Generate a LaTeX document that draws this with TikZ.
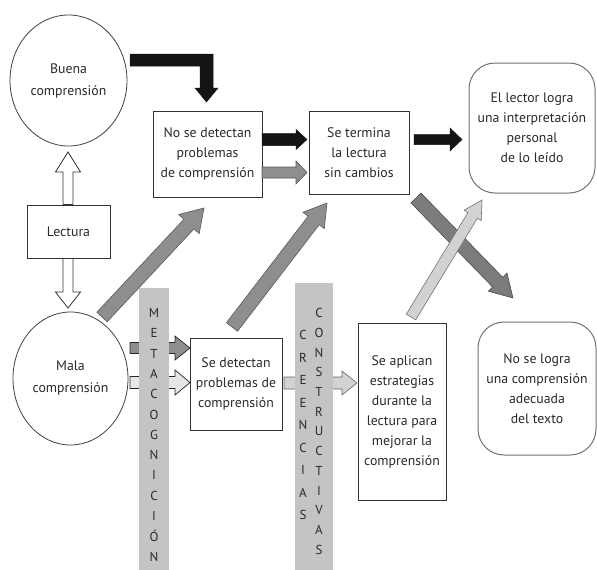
\documentclass[tikz,border=0pt]{standalone}
\usepackage{fontspec}
\setmainfont{PT Sans}
\usetikzlibrary{shapes.geometric,calc}
\definecolor{barg}{HTML}{C4C4C4}
\definecolor{midg}{HTML}{8E8E8E}
\definecolor{darkg}{HTML}{7C7C7C}
\definecolor{lightg}{HTML}{D2D2D2}
\definecolor{paleg}{HTML}{E6E6E6}
\definecolor{txtc}{HTML}{2A2A2A}
% fat block arrow: [style]{from}{to}{shaft half width}{head half width}{head length}
\newcommand\fatarrow[6][]{%
  \path[#1] let \p1=(#2), \p2=(#3),
    \n1={atan2(\y2-\y1,\x2-\x1)}, \n2={veclen(\x2-\x1,\y2-\y1)} in
    ([shift={(\p1)},rotate=\n1]0,#4)
    -- ([shift={(\p1)},rotate=\n1]\n2-#6,#4)
    -- ([shift={(\p1)},rotate=\n1]\n2-#6,#5)
    -- ([shift={(\p1)},rotate=\n1]\n2,0)
    -- ([shift={(\p1)},rotate=\n1]\n2-#6,-#5)
    -- ([shift={(\p1)},rotate=\n1]\n2-#6,-#4)
    -- ([shift={(\p1)},rotate=\n1]0,-#4) -- cycle;%
}
\begin{document}
\begin{tikzpicture}[x=1pt,y=-1pt,
  txt/.style={font=\fontsize{13.8}{20}\selectfont, text=txtc, align=center},
  ell/.style={txt, ellipse, draw=black!75, line width=0.8pt, inner sep=0pt},
  sqbox/.style={txt, rectangle, draw=black!80, line width=1pt, inner sep=0pt},
  rbox/.style={txt, rectangle, rounded corners=26pt, draw=black!55, line width=1pt, inner sep=0pt},
  bar/.style={fill=barg, inner sep=0pt, draw=none},
  letter/.style={font=\fontsize{13}{13}\selectfont, text=txtc, inner sep=0pt},
  blk/.style={fill=black!92, draw=black!92, line width=0.5pt, line join=miter},
  hollow/.style={fill=white, draw=black!80, line width=0.8pt},
  gr/.style={fill=midg, draw=black!65, line width=0.6pt},
  grb/.style={fill=midg, draw=black!85, line width=0.7pt},
  dk/.style={fill=darkg, draw=black!70, line width=0.6pt},
  lt/.style={fill=lightg, draw=black!55, line width=0.6pt},
  pale/.style={fill=paleg, draw=black!85, line width=0.7pt},
  ltc/.style={fill=lightg, draw=black!60, line width=0.6pt}
]
\fill[white] (0,0) rectangle (597,570);
\useasboundingbox (0,0) rectangle (597,570);

% nodes
\node[ell, minimum width=117, minimum height=131, font=\fontsize{13.8}{22}\selectfont] (buena) at (68.5,80.5) {Buena\\comprensión};
\node[ell, minimum width=115, minimum height=133, font=\fontsize{13.8}{22}\selectfont] (mala) at (70.5,378.5) {Mala\\comprensión};
\node[sqbox, minimum width=83, minimum height=53] (lectura) at (68.5,231.5) {Lectura};
\node[sqbox, minimum width=109, minimum height=86] (nodet) at (207.5,154) {No se detectan\\problemas\\de comprensión};
\node[sqbox, minimum width=100, minimum height=83] (termina) at (359,152.5) {Se termina\\la lectura\\sin cambios};
\node[rbox, minimum width=126, minimum height=130] (lector) at (532,128) {El lector logra\\una interpretación\\personal\\de lo leído};
\node[sqbox, minimum width=92, minimum height=92] (detect) at (236,384) {Se detectan\\problemas de\\comprensión};
\node[sqbox, minimum width=88, minimum height=177] (aplican) at (402,411.5) {Se aplican\\estrategias\\durante la\\lectura para\\mejorar la\\comprensión};
\node[rbox, minimum width=118, minimum height=133] (nologra) at (537,388.5) {No se logra\\una comprensión\\adecuada\\del texto};

% arrow end points
\coordinate (lu1) at (68,204.5);  \coordinate (lu2) at (68,152);
\coordinate (ld1) at (68,258.5);  \coordinate (ld2) at (68,308);
\coordinate (b1s) at (262,139.5); \coordinate (b1e) at (307,139.5);
\coordinate (g1s) at (262,172.5); \coordinate (g1e) at (307,172.5);
\coordinate (b2s) at (414,139.5); \coordinate (b2e) at (462,139.5);
\coordinate (d1s) at (102,317);   \coordinate (d1e) at (204,208);
\coordinate (d2s) at (232,327);   \coordinate (d2e) at (327,203);
\coordinate (d3s) at (416,198);   \coordinate (d3e) at (513,298);
\coordinate (d4s) at (411,317);   \coordinate (d4e) at (482,200);
\coordinate (m1s) at (130,348);   \coordinate (m1e) at (190,348);
\coordinate (m2s) at (130,382.5); \coordinate (m2e) at (190,382.5);
\coordinate (c1s) at (284,383);   \coordinate (c1e) at (357,383);

% hollow arrows from Lectura
\fatarrow[hollow]{lu1}{lu2}{5}{12.5}{20}
\fatarrow[hollow]{ld1}{ld2}{5}{12.5}{16}

% black elbow arrow from Buena comprensión
\fill[blk] (130,54) -- (213,54) -- (213,88) -- (218,88) -- (206.5,102)
  -- (195,88) -- (200,88) -- (200,66) -- (130,66) -- cycle;

% horizontal arrows
\fatarrow[blk]{b1s}{b1e}{6}{10}{11}
\fatarrow[gr]{g1s}{g1e}{5.5}{11.5}{11}
\fatarrow[blk]{b2s}{b2e}{5}{11.5}{12}

% diagonal arrows
\fatarrow[gr]{d1s}{d1e}{7}{14}{22}
\fatarrow[gr]{d2s}{d2e}{7}{13.5}{22}
\fatarrow[dk]{d3s}{d3e}{7}{13}{22}
\fatarrow[lt]{d4s}{d4e}{5.5}{10}{18}

% arrows passing behind the bars
\fatarrow[grb]{m1s}{m1e}{5.5}{12}{15}
\fatarrow[pale]{m2s}{m2e}{6}{12.5}{15}
\fatarrow[ltc]{c1s}{c1e}{6}{12}{15}

% bars
\node[bar, minimum width=30, minimum height=282] (mbar) at (154,429) {};
\node[bar, minimum width=38, minimum height=287] (cbar) at (314,426.5) {};

% bar letters
\foreach \l [count=\i] in {M,E,T,A,C,O,G,N,I,C,I,Ó,N}
  \node[letter] (meta\i) at (154,313+20.3*\i-20.3) {\l};
\foreach \l [count=\i] in {C,R,E,E,N,C,I,A,S}
  \node[letter] (cre\i) at (303,335+22.5*\i-22.5) {\l};
\foreach \l [count=\i] in {C,O,N,S,T,R,U,C,T,I,V,A,S}
  \node[letter] (con\i) at (319,313+19.75*\i-19.75) {\l};
\end{tikzpicture}
\end{document}
